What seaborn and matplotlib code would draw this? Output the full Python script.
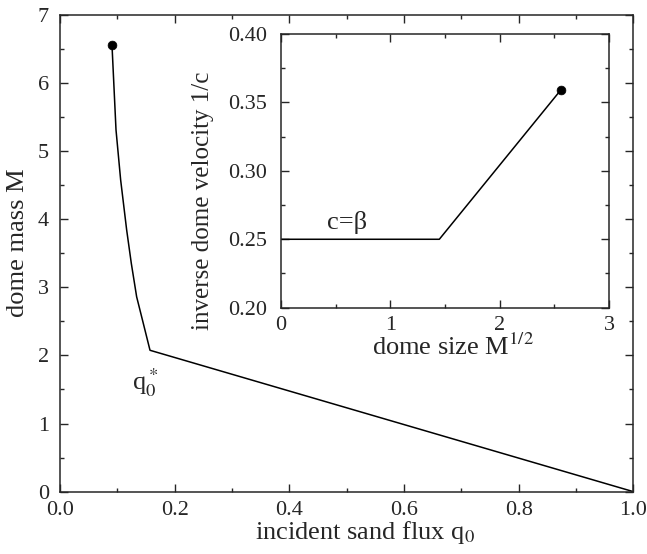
import numpy as np
import pandas as pd
import matplotlib
matplotlib.use("Agg")
import matplotlib.pyplot as plt
from matplotlib.ticker import MultipleLocator
import seaborn as sns

# main panel: dome mass vs incident flux
flux_q0 = [0.0907, 0.0936, 0.0977, 0.1058, 0.1163, 0.1244, 0.1337, 0.1453, 0.157, 1.0]
mass_M = [6.556, 6.04, 5.31, 4.575, 3.84, 3.35, 2.86, 2.47, 2.075, 0.0]
end_q0 = [0.0907]
end_M = [6.556]

# inset: inverse velocity vs dome size
size_sqrtM = [0.0, 1.448, 2.558]
inv_vel = [0.25, 0.25, 0.359]
end_size = [2.558]
end_vel = [0.359]

sns.set_style("ticks")
plt.rcParams["font.family"] = ["Liberation Serif", "DejaVu Serif"]
plt.rcParams["mathtext.fontset"] = "stix"
plt.rcParams["xtick.direction"] = "in"
plt.rcParams["ytick.direction"] = "in"

TICK_FS = 16
LABEL_FS = 19

fig = plt.figure(figsize=(6.47, 5.54), dpi=100)
ax = fig.add_axes([0.0927, 0.1125, 0.8863, 0.861])

main_df = pd.DataFrame({"q0": flux_q0, "M": mass_M})
sns.lineplot(data=main_df, x="q0", y="M", sort=False, color="black", lw=1.1, ax=ax)
sns.scatterplot(x=end_q0, y=end_M, color="black", s=40, edgecolor="black", ax=ax, zorder=5)

ax.set_xlim(0, 1)
ax.set_ylim(0, 7)
ax.xaxis.set_major_locator(MultipleLocator(0.2))
ax.xaxis.set_minor_locator(MultipleLocator(0.1))
ax.yaxis.set_major_locator(MultipleLocator(1))
ax.yaxis.set_minor_locator(MultipleLocator(0.5))
ax.xaxis.set_major_formatter(lambda v, p: f"{v:.1f}")
ax.tick_params(which="both", top=True, right=True, labelsize=TICK_FS, width=1)
ax.tick_params(axis="x", pad=7)
ax.tick_params(axis="y", pad=8)
ax.tick_params(which="major", length=6)
ax.tick_params(which="minor", length=3)
ax.set_xlabel("incident sand flux q$_0$", fontsize=LABEL_FS, va="center")
ax.xaxis.set_label_coords(0.532, -0.085)
ax.set_ylabel("dome mass M", fontsize=LABEL_FS, va="center")
ax.yaxis.set_label_coords(-0.073, 0.523)
ax.text(0.148, 1.6, r"q$_0^*$", fontsize=LABEL_FS, ha="center", va="center")
for sp in ax.spines.values():
    sp.set_linewidth(1.1)

# inset
ins = fig.add_axes([0.4343, 0.4446, 0.507, 0.494])
inset_df = pd.DataFrame({"size": size_sqrtM, "vel": inv_vel})
sns.lineplot(data=inset_df, x="size", y="vel", sort=False, color="black", lw=1.1, ax=ins)
sns.scatterplot(x=end_size, y=end_vel, color="black", s=40, edgecolor="black", ax=ins, zorder=5)

ins.set_xlim(0, 3)
ins.set_ylim(0.2, 0.4)
ins.xaxis.set_major_locator(MultipleLocator(1))
ins.xaxis.set_minor_locator(MultipleLocator(0.5))
ins.yaxis.set_major_locator(MultipleLocator(0.05))
ins.yaxis.set_minor_locator(MultipleLocator(0.025))
ins.yaxis.set_major_formatter(lambda v, p: f"{v:.2f}")
ins.tick_params(which="both", top=True, right=True, labelsize=TICK_FS, width=1)
ins.tick_params(axis="x", pad=6)
ins.tick_params(axis="y", pad=10)
ins.tick_params(which="major", length=6)
ins.tick_params(which="minor", length=3)
ins.set_xlabel("dome size M$^{1/2}$", fontsize=LABEL_FS, va="center")
ins.xaxis.set_label_coords(0.524, -0.145)
ins.set_ylabel("inverse dome velocity 1/c", fontsize=18, va="center")
ins.yaxis.set_label_coords(-0.238, 0.39)
ins.text(0.608, 0.2626, "c=\u03b2", fontsize=LABEL_FS, ha="center", va="center")
for sp in ins.spines.values():
    sp.set_linewidth(1.1)

fig.savefig("out.png", dpi=100)
